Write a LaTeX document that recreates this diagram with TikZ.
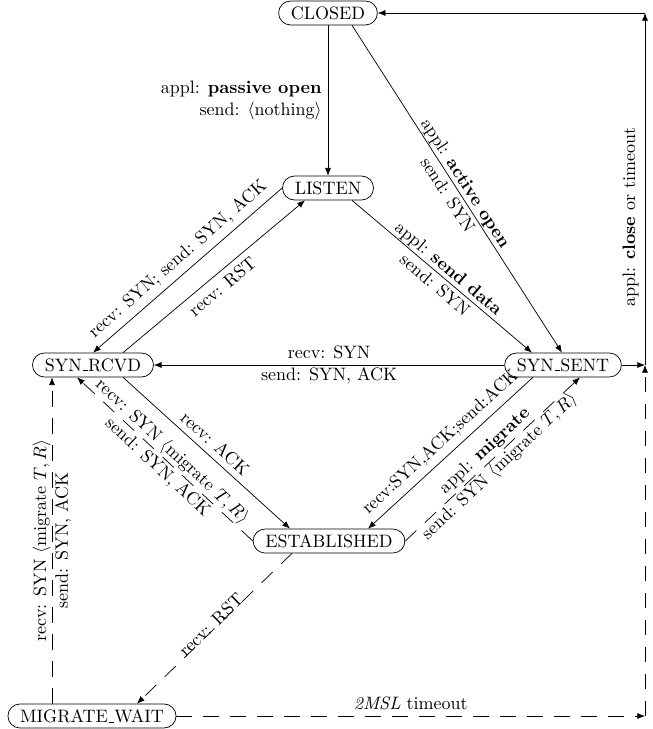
\documentclass[tikz,border=0pt]{standalone}
\usetikzlibrary{calc,arrows.meta}
\newcommand{\usc}{\kern.06em\vbox{\hrule width.3em}}
\begin{document}
\begin{tikzpicture}[x=0.5556pt,y=-0.5556pt,
  state/.style={draw, rounded corners=6.6pt, minimum height=13.3pt, inner xsep=6.8pt, inner ysep=0pt},
  ed/.style={-{Latex[length=4.3pt,width=3.4pt]}},
  dsh/.style={ed, dash pattern=on 8.5pt off 6.5pt},
  every node/.append style={align=center}]
\useasboundingbox (0,0) rectangle (653,729);

\node[state] (CL) at (328,13) {CLOSED};
\node[state] (LI) at (328,188) {LISTEN};
\node[state] (SR) at (93,365) {SYN\usc RCVD};
\node[state] (SS) at (563,365) {SYN\usc SENT};
\node[state] (ES) at (329,541) {ESTABLISHED};
\node[state] (MW) at (92,716) {MIGRATE\usc WAIT};

\coordinate (R0) at (645,13);
\coordinate (R1) at (645,365);
\coordinate (R2) at (645,716);
\coordinate (V) at ($(SR.south)+(-41,0)$);

\draw[ed] (CL) -- node[left, align=right] {appl: \textbf{passive open}\\send: $\langle$nothing$\rangle$} (LI);
\draw[ed] ($(CL.south)+(24,0)$) -- node[sloped] {appl: \textbf{active open}\\send: SYN} ($(SS.north)+(-1,0)$);
\draw[ed] ($(LI.south)+(24,0)$) -- node[sloped] {appl: \textbf{send data}\\send: SYN} ($(SS.north)+(-31,0)$);
\draw[ed] (LI.west) -- node[sloped, above] {recv: SYN; send: SYN, ACK} (SR.north);
\draw[ed] ($(SR.north)+(30,0)$) -- node[sloped, below] {recv: RST} ($(LI.south)+(-23,0)$);
\draw[ed] (SS) -- node {recv: SYN\\send: SYN, ACK} (SR);
\draw[ed] ($(SR.south)+(30,0)$) -- node[sloped, above] {recv: ACK} ($(ES.north)+(-39,0)$);
\draw[dsh] (ES.west) -- node[sloped] {recv: SYN $\langle$migrate $T,R\rangle$\\send: SYN, ACK} ($(SR.south)+(-16,0)$);
\draw[ed] ($(SS.south)+(-30,0)$) -- node[sloped, above] {recv:SYN,ACK;send:ACK} ($(ES.north)+(39,0)$);
\draw[dsh] (ES.east) -- node[sloped] {appl: \textbf{migrate}\\send: SYN $\langle$migrate $T,R\rangle$} ($(SS.south)+(17,0)$);
\draw[dsh] ($(ES.south)+(-37,0)$) -- node[sloped, inner sep=0pt, above=-1pt] {recv: RST} ($(MW.north)+(45,0)$);
\draw[dsh] (V |- MW.north) -- node[sloped] {recv: SYN $\langle$migrate $T,R\rangle$\\send: SYN, ACK} (V);
\draw[dsh] (MW) -- node[above] {\textit{2MSL} timeout} (R2);
\draw[dsh] (R2) -- (R1);
\draw[ed] (SS) -- (R1);
\draw[ed] (R1) -- node[sloped, above, pos=0.42] {appl: \textbf{close} or timeout} (R0);
\draw[ed] (R0) -- (CL);
\end{tikzpicture}
\end{document}
